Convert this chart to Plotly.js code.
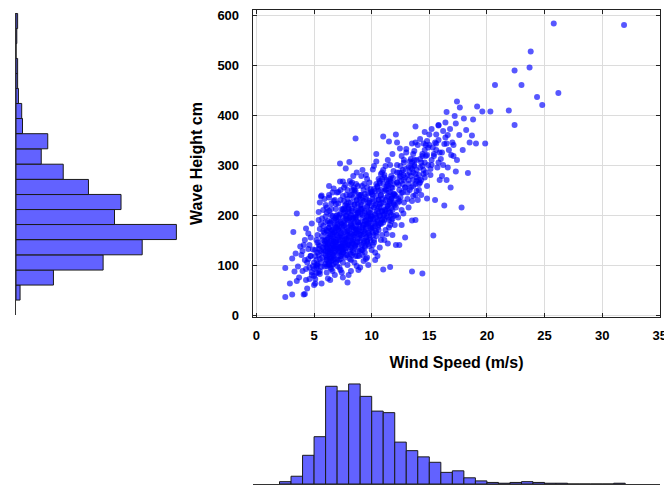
<!DOCTYPE html>
<html>
<head>
<meta charset="utf-8">
<script src="https://cdn.plot.ly/plotly-3.0.1.min.js"></script>
<style>html,body{margin:0;padding:0;background:#fff;}#chart{width:664px;height:486px;}</style>
</head>
<body>
<div id="chart"></div>
<script>
// Scatter data: wind speed (m/s) and wave height (cm)
const windSpeed = [
  2.5,2.5,2.9,
  3.1,3.2,3.5,3.3,3.6,3.1,3.4,3.8,
  4.1,4.2,4.4,4.2,4.5,4.3,4.8,4.6,4.9,4.7,4.4,4.0,4.6,4.8,4.3,4.9,4.5,4.7,
  5.1,5.4,5.65,5.6,5.65,5.0,5.2,5.3,5.5,5.7,5.8,5.9,5.1,5.3,5.5,5.7,5.9,5.2,5.4,5.6,5.8,5.0,5.3,5.5,5.8,5.9,5.2,5.6,5.4,5.7,
  6.0,6.0,6.5,6.2,6.8,6.7,6.3,6.1,6.4,6.6,
  6.9,6.2,6.5,6.8,6.1,6.3,6.7,6.9,6.4,6.6,
  6.0,6.2,6.5,6.8,6.3,6.7,6.1,6.9,6.4,6.6,
  6.0,6.3,6.5,6.8,6.2,6.9,6.1,6.4,6.7,6.5,
  6.2,6.8,6.6,6.3,6.0,6.9,6.4,6.7,6.1,6.5,
  6.8,6.3,6.6,6.2,6.9,6.0,6.4,6.7,6.5,6.1,
  6.3,6.8,6.6,
  7.25,7.5,7.75,7.25,7.9,7.5,7.1,7.0,7.2,7.4,
  7.6,7.8,7.1,7.3,7.5,7.7,7.9,7.2,7.4,7.6,
  7.8,7.0,7.3,7.5,7.7,7.9,7.1,7.3,7.5,7.7,
  7.9,7.2,7.4,7.6,7.8,7.0,7.3,7.6,7.1,7.4,
  7.7,7.9,7.2,7.5,7.8,7.0,7.3,7.6,7.9,7.4,
  7.1,7.7,7.5,7.2,7.8,7.0,7.6,7.3,7.9,7.4,
  8.06,8.4,8.6,8.85,8.0,8.2,8.4,8.6,8.8,8.1,
  8.3,8.5,8.7,8.9,8.0,8.2,8.4,8.6,8.8,8.1,
  8.3,8.5,8.7,8.9,8.0,8.2,8.4,8.6,8.8,8.1,
  8.3,8.5,8.7,8.9,8.0,8.2,8.4,8.6,8.8,8.1,
  8.3,8.5,8.7,8.9,8.0,8.2,8.4,8.6,8.8,8.3,
  8.5,8.7,8.9,8.1,8.2,8.6,8.8,8.0,8.4,8.9,
  8.3,8.7,8.5,8.1,
  9.1,9.5,9.7,9.0,9.2,9.4,9.6,9.8,9.1,9.3,
  9.5,9.7,9.9,9.0,9.2,9.4,9.6,9.8,9.1,9.3,
  9.5,9.7,9.9,9.0,9.2,9.4,9.6,9.8,9.1,9.3,
  9.5,9.7,9.9,9.0,9.2,9.4,9.6,9.8,9.1,9.3,
  9.5,9.7,9.9,9.0,9.2,9.4,9.6,9.8,9.3,9.5,
  9.1,9.9,9.6,9.2,9.4,9.7,
  10.4,10.4,10.1,10.3,10.0,10.2,10.4,10.6,10.8,10.1,
  10.3,10.5,10.7,10.9,10.0,10.2,10.4,10.6,10.8,10.1,
  10.3,10.5,10.7,10.9,10.0,10.2,10.4,10.6,10.8,10.1,
  10.3,10.5,10.7,10.9,10.0,10.2,10.4,10.6,10.8,10.5,
  10.7,10.9,10.2,10.6,10.8,10.3,10.9,
  11.0,11.5,11.0,11.0,11.6,11.4,11.1,11.3,11.5,11.7,
  11.9,11.2,11.4,11.6,11.8,11.1,11.3,11.5,11.7,11.9,
  11.2,11.4,11.6,11.8,11.1,11.3,11.5,11.7,11.9,11.2,
  11.4,11.6,11.8,11.0,11.2,11.4,11.6,11.8,11.0,11.3,
  11.5,11.7,11.9,11.1,11.6,11.8,
  12.1,12.2,12.45,12.9,12.75,12.4,12.1,12.0,12.3,12.6,
  12.8,12.1,12.4,12.7,12.9,12.2,12.5,12.8,12.0,12.3,
  12.6,12.9,12.2,12.5,12.7,12.4,12.6,
  13.0,13.7,13.5,13.8,13.3,13.5,13.5,13.8,13.4,13.6,
  13.9,13.2,13.7,13.9,13.1,13.4,13.6,13.8,13.2,13.5,
  13.9,14.0,
  14.5,14.6,14.8,14.4,14.2,14.1,14.3,14.5,14.7,14.9,
  14.2,14.6,14.8,14.4,14.1,14.9,14.3,14.7,
  15.0,15.8,15.6,15.6,15.5,15.35,15.8,15.2,15.4,15.9,
  15.1,15.7,15.3,15.9,
  16.5,16.5,16.9,16.5,16.3,16.85,16.2,16.7,16.4,
  17.4,17.65,17.4,17.3,17.3,17.8,17.2,17.1,17.6,17.9,
  18.0,18.8,18.7,18.5,18.35,18.2,
  19.05,19.85,19.6,19.15,
  20.3,20.7,21.9,22.4,22.4,23.0,23.7,23.8,24.35,24.8,25.8,26.2,31.9,
  // denser core
  5.2,5.5,5.8,5.1,5.4,5.7,5.3,5.6,5.9,5.0,5.5,5.8,5.2,5.6,5.4,
  6.1,6.3,6.5,6.7,6.9,6.2,6.4,6.6,6.8,6.0,
  6.1,6.3,6.5,6.7,6.9,6.2,6.4,6.6,6.8,6.0,
  6.15,6.35,6.55,6.75,6.95,6.25,6.45,6.65,6.85,6.05,
  6.15,6.35,6.55,6.75,6.95,6.25,6.45,6.65,6.85,6.05,
  7.1,7.3,7.5,7.7,7.9,7.2,7.4,7.6,7.8,7.0,
  7.15,7.35,7.55,7.75,7.95,7.25,7.45,7.65,7.85,7.05,
  7.1,7.3,7.5,7.7,7.9,7.2,7.4,7.6,7.8,7.0,
  7.15,7.35,7.55,7.75,7.95,7.25,7.45,7.65,7.85,7.05,
  8.1,8.3,8.5,8.7,8.9,8.2,8.4,8.6,8.8,8.0,
  8.15,8.35,8.55,8.75,8.95,8.25,8.45,8.65,8.85,8.05,
  8.1,8.3,8.5,8.7,8.9,8.2,8.4,8.6,8.8,8.0,
  8.15,8.35,8.55,8.75,8.95,8.25,8.45,8.65,8.85,8.05,
  9.1,9.3,9.5,9.7,9.9,9.2,9.4,9.6,9.8,9.0,
  9.15,9.35,9.55,9.75,9.95,9.25,9.45,9.65,9.85,9.05,
  9.1,9.3,9.5,9.7,9.9,9.2,9.4,9.6,9.8,9.0,
  9.15,9.35,9.55,9.75,9.95,
  10.1,10.3,10.5,10.7,10.9,10.2,10.4,10.6,10.8,10.0,
  10.15,10.35,10.55,10.75,10.95,10.25,10.45,10.65,10.85,10.05,
  10.1,10.3,10.5,10.7,10.9,10.2,10.4,10.6,10.8,10.0,
  11.1,11.3,11.5,11.7,11.9,11.2,11.4,11.6,11.8,11.0,
  11.15,11.35,11.55,11.75,11.95,11.25,11.45,11.65,11.85,11.05,
  11.1,11.3,11.5,11.7,11.9,
  12.1,12.3,12.5,12.7,12.9,12.2,12.4,12.6,12.8,12.0,12.15,12.35,12.55,12.75,12.95,
  13.3,13.5,13.7,13.9,13.4,13.6,13.8,13.2,13.5,13.7,13.1,13.9,13.3,13.6,13.8,
  14.2,14.4,14.6,14.8,14.3,14.5,14.7,14.1,
  15.2,15.5,15.8,16.1,16.3,16.6,
  // upper band
  12.2,12.6,13.0,13.4,13.8,14.2,14.6,15.0,15.4,15.8,
  16.2,16.6,17.0,12.4,12.8,13.2,13.6,14.0,14.4,14.8,
  15.2,15.6,16.0,16.4,16.8,13.1,14.1,15.1,16.1,17.1,
  // lower-left and upper-left fringes
  3.7,4.0,4.3,4.6,3.9,4.2,4.5,4.8,5.1,5.4,3.5,4.1,4.7,5.0,5.3,
  5.5,5.9,6.3,6.7,7.1,7.5,7.9,6.1,6.5,6.9,7.3,7.7,8.2,8.5,5.8
];
const waveHeight = [
  36,94,63,
  41,166,203,87,97,113,123,137,
  41,42,53,150,163,173,183,72,98,118,105,128,140,86,92,131,112,155,
  63,190,239,237,63,78,95,102,88,115,124,97,130,145,138,150,165,110,120,105,135,92,160,172,178,142,84,128,206,193,
  197,220,223,73,80,253,258,110,125,140,
  150,160,170,180,135,145,118,105,95,88,
  120,132,152,165,175,190,205,212,185,198,
  150,100,108,128,142,138,168,158,147,92,
  118,112,162,128,140,175,112,133,85,188,
  230,235,245,188,198,102,70,102,135,150,
  208,145,122,
  267,267,293,303,65,75,223,110,125,138,
  150,162,172,185,195,208,218,145,155,132,
  120,98,90,105,115,140,150,160,170,180,
  190,200,212,228,240,245,250,255,135,122,
  145,168,178,142,150,160,112,178,100,85,
  188,130,125,95,198,175,205,135,232,182,
  306,278,353,90,80,110,125,140,152,165,
  175,185,195,205,215,225,235,248,258,268,
  145,160,170,180,190,200,160,172,185,130,
  120,105,98,118,140,150,195,210,222,240,
  250,135,145,162,170,182,142,118,128,208,
  220,230,240,195,88,195,205,155,175,140,
  265,285,245,112,
  278,280,100,95,120,135,148,160,170,180,
  190,200,210,220,230,242,255,265,150,162,
  172,182,192,202,212,125,115,138,130,145,
  155,165,175,185,195,205,218,228,240,250,
  112,225,245,160,175,188,198,185,108,232,
  212,150,272,290,165,142,
  322,307,291,110,130,145,158,170,182,192,
  202,212,222,232,242,252,262,272,282,165,
  178,188,198,208,218,228,238,248,150,140,
  125,118,135,160,175,185,195,205,215,258,
  268,285,298,230,240,220,190,
  357,347,290,91,96,143,150,162,175,188,
  198,208,218,228,238,248,258,268,278,288,
  298,310,180,192,202,212,222,232,242,252,
  262,272,210,185,170,195,205,160,225,235,
  245,255,225,275,300,322,
  361,345,333,155,203,140,140,180,195,210,
  225,238,250,262,275,285,298,310,220,232,
  245,255,265,278,290,228,180,
  325,328,343,377,307,87,189,190,295,285,
  275,270,300,310,245,255,238,262,215,228,
  248,230,
  343,366,233,83,295,280,305,290,318,300,
  265,275,258,322,250,335,240,285,
  361,379,361,343,230,159,380,300,318,325,
  280,295,335,270,
  406,343,320,270,219,255,300,330,355,
  427,415,310,287,383,215,398,340,360,330,
  393,391,359,345,284,370,
  343,343,407,417,
  407,460,409,489,380,460,495,527,436,420,583,444,580,
  // denser core
  100,112,130,118,140,158,125,96,148,105,82,168,150,182,132,
  115,122,130,138,146,154,162,170,178,186,
  98,106,114,152,160,126,134,142,120,128,
  144,116,168,124,132,174,148,156,194,110,
  138,182,100,166,190,102,200,110,136,170,
  128,136,144,152,160,168,176,184,192,200,
  110,118,126,134,142,150,158,166,174,182,
  195,203,211,219,120,128,136,212,222,140,
  156,164,188,198,206,118,130,140,152,170,
  140,148,156,164,172,180,188,196,204,212,
  122,130,138,146,154,162,170,178,186,194,
  205,213,221,229,237,135,150,165,210,225,
  178,192,200,118,128,240,255,262,168,158,
  160,168,176,184,192,200,208,216,224,232,
  140,148,156,164,172,180,188,196,204,212,
  220,228,236,244,252,130,138,146,154,240,
  258,262,182,206,198,
  175,183,191,199,207,215,223,231,239,247,
  160,168,176,184,192,200,208,216,224,232,
  240,248,256,264,272,150,165,180,250,196,
  190,198,206,214,222,230,238,246,254,262,
  210,218,226,234,242,250,258,266,274,200,
  280,270,190,200,262,
  215,225,235,245,255,265,275,285,270,240,200,260,268,280,292,
  285,292,298,290,278,270,282,262,305,310,232,268,250,258,240,
  312,298,305,320,270,282,340,262,
  310,345,305,325,342,295,
  // upper band
  300,318,332,312,345,352,330,340,322,350,
  368,360,345,285,305,296,322,340,318,348,
  372,330,312,385,372,280,270,292,278,318,
  // lower-left and upper-left fringes
  75,88,70,95,120,110,132,80,72,85,68,140,118,60,98,
  225,232,240,228,246,238,250,215,212,222,230,260,262,250,210
];

// Wind speed histogram (bottom): 1 m/s bins
const windBinCenters = [2.5,3.5,4.5,5.5,6.5,7.5,8.5,9.5,10.5,11.5,12.5,13.5,14.5,15.5,16.5,17.5,18.5,19.5,20.5,21.5,22.5,23.5,24.5,25.5,26.5,27.5,28.5,29.5,30.5,31.5];
const windCounts     = [3,10,37,61,126,120,129,113,94,92,54,43,35,28,15,17,8,4,2,1,2,3,2,1,1,0,0,0,0,1];
const windBinWidth = 1;

// Wave height histogram (left): bins of about 30 cm
const waveBinCenters = [45,75,105,135.5,166,196,226,256,286.5,317,347.5,378,408,438,468,498,528,558,588];
const waveCounts     = [5,46,107,155,197,121,129,89,58,31,39,8,7,3,2,2,0,1,2];
const waveBinWidth = 30.2;

const H = 486, W = 664;
const px = v => v / W;
const py = v => 1 - v / H;

const fam = 'Liberation Sans, Arial, sans-serif';
const tickFont = {family: fam, size: 13, color: '#000', weight: 'bold'};
const titleFont = {family: fam, size: 16, color: '#000', weight: 'bold'};
const barFill = '#6262ff';
const barLine = {color: '#1a1a1a', width: 1};

const traces = [
  {
    type: 'scatter', mode: 'markers',
    x: windSpeed, y: waveHeight,
    xaxis: 'x', yaxis: 'y',
    marker: {size: 6, color: 'rgba(0,0,255,0.66)', line: {width: 0}},
    hoverinfo: 'skip'
  },
  {
    type: 'bar', orientation: 'h',
    y: waveBinCenters, x: waveCounts,
    width: waveBinWidth,
    xaxis: 'x2', yaxis: 'y3',
    marker: {color: barFill, line: barLine},
    hoverinfo: 'skip'
  },
  {
    type: 'bar',
    x: windBinCenters, y: windCounts,
    width: windBinWidth,
    xaxis: 'x3', yaxis: 'y2',
    marker: {color: barFill, line: barLine},
    hoverinfo: 'skip'
  }
];

const layout = {
  width: W, height: H,
  margin: {l: 0, r: 0, t: 0, b: 0},
  paper_bgcolor: '#fff', plot_bgcolor: 'rgba(0,0,0,0)',
  showlegend: false,
  bargap: 0,
  xaxis: {
    domain: [px(253), px(660)], anchor: 'y',
    range: [-0.3, 35.02], dtick: 5, tick0: 0,
    showgrid: true, gridcolor: '#dcdcdc', gridwidth: 1,
    zeroline: false, showline: true, linecolor: '#222', linewidth: 1.3, mirror: 'allticks',
    ticks: 'inside', ticklen: 4, tickcolor: '#222',
    tickfont: tickFont, ticklabelstandoff: 6, ticklabeloverflow: 'allow',
    title: {text: 'Wind Speed (m/s)', font: titleFont, standoff: 15}
  },
  yaxis: {
    domain: [py(317), py(10)], anchor: 'x',
    range: [-4, 610], dtick: 100, tick0: 0,
    showgrid: true, gridcolor: '#dcdcdc', gridwidth: 1,
    zeroline: false, showline: true, linecolor: '#222', linewidth: 1.3, mirror: 'allticks',
    ticks: 'inside', ticklen: 4, tickcolor: '#222',
    tickfont: tickFont, ticklabelstandoff: 10, ticklabeloverflow: 'allow',
    title: {text: 'Wave Height cm', font: titleFont, standoff: 10}
  },
  // left histogram
  xaxis2: {
    domain: [px(16), px(200)], anchor: 'y3',
    range: [0, 226], visible: false, fixedrange: true
  },
  yaxis3: {
    domain: [py(315), py(12.7)], anchor: 'x2',
    range: [0, 604.6], showgrid: false, zeroline: false,
    showline: true, linecolor: '#333', linewidth: 1,
    ticks: '', showticklabels: false
  },
  // bottom histogram
  xaxis3: {
    domain: [px(253), px(660)], anchor: 'y2',
    range: [-0.3, 35.02], showgrid: false, zeroline: false,
    showline: true, linecolor: '#333', linewidth: 1,
    ticks: '', showticklabels: false
  },
  yaxis2: {
    domain: [py(484), py(370)], anchor: 'x3',
    range: [0, 147], visible: false
  }
};

Plotly.newPlot('chart', traces, layout, {staticPlot: true, displayModeBar: false});
</script>
</body>
</html>
